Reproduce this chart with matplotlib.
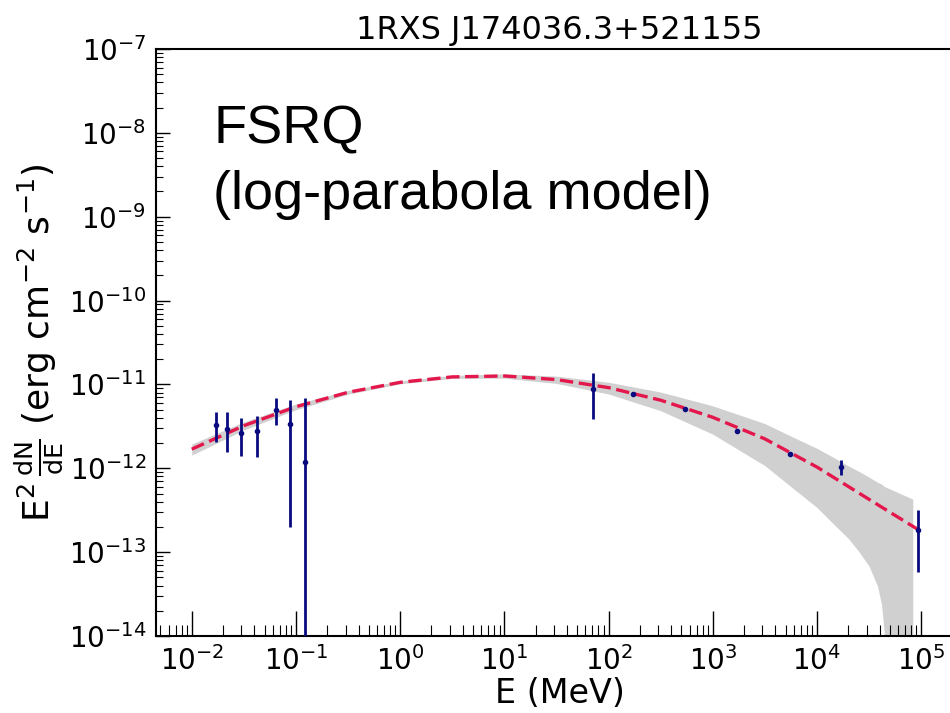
"""SED of 1RXS J174036.3+521155 with log-parabola model"""
import numpy as np
import matplotlib
matplotlib.use("Agg")
import matplotlib.pyplot as plt
from matplotlib.ticker import LogLocator, NullFormatter

# data points (E in MeV, E^2 dN/dE in erg cm^-2 s^-1)
energy = [0.0171, 0.0217, 0.0295, 0.0427, 0.0640, 0.0877, 0.122,
          70.3, 170.0, 542.0, 1700.0, 5500.0, 16900.0, 94000.0]
flux = [3.30e-12, 2.93e-12, 2.67e-12, 2.82e-12, 4.98e-12, 3.39e-12, 1.20e-12,
        8.79e-12, 7.66e-12, 5.07e-12, 2.79e-12, 1.48e-12, 1.03e-12, 1.84e-13]
flux_hi = [4.67e-12, 4.67e-12, 3.96e-12, 4.22e-12, 6.87e-12, 6.55e-12, 6.87e-12,
           1.36e-11, 8.0e-12, 5.2e-12, 2.85e-12, 1.51e-12, 1.26e-12, 3.19e-13]
flux_lo = [2.03e-12, 1.58e-12, 1.42e-12, 1.36e-12, 3.30e-12, 2.01e-13, 1e-16,
           3.85e-12, 7.3e-12, 4.95e-12, 2.73e-12, 1.45e-12, 8.34e-13, 5.85e-14]

# model line, log10 values read at half decades
model_loge = [-2.0, -1.5, -1.0, -0.5, 0.0, 0.5, 1.0, 1.5, 2.0, 2.5, 3.0, 3.5,
              4.0, 4.5, 4.97]
model_logf = [-11.772, -11.492, -11.266, -11.094, -10.975, -10.910, -10.899,
              -10.942, -11.038, -11.188, -11.392, -11.649, -11.985, -12.37,
              -12.73]

# uncertainty band edges (log10)
band_loge = [-2.0, -1.5, -1.0, -0.5, 0.0, 0.5, 1.0, 1.5, 2.0, 2.5, 3.0, 3.5,
             3.75, 4.0, 4.15, 4.3, 4.4, 4.5, 4.58, 4.62, 4.645, 4.66, 4.68,
             4.92]
band_hi = [-11.711, -11.447, -11.233, -11.073, -10.958, -10.893, -10.874,
           -10.901, -10.974, -11.091, -11.255, -11.467, -11.616, -11.762,
           -11.864, -11.970, -12.035, -12.105, -12.166, -12.189, -12.215,
           -12.225, -12.235, -12.368]
band_lo = [-11.843, -11.543, -11.302, -11.116, -10.993, -10.928, -10.926,
           -10.988, -11.114, -11.313, -11.593, -11.968, -12.218, -12.467,
           -12.653, -12.835, -12.989, -13.166, -13.40, -13.62, -13.95,
           -14.3, -16.0, -16.0]

fig = plt.figure(figsize=(9.5, 7.13), dpi=100)
ax = fig.add_axes([156 / 950, 77 / 713, (963 - 156) / 950, 587 / 713])

be = 10 ** np.array(band_loge)
ax.fill_between(be, 10 ** np.array(band_lo), 10 ** np.array(band_hi),
                color="#d0d0d0", lw=0, zorder=1)
ax.plot(10 ** np.array(model_loge), 10 ** np.array(model_logf),
        color="#e3174b", lw=2.4, ls=(0, (4, 1.7)), zorder=3)

yerr = [np.array(flux) - np.array(flux_lo), np.array(flux_hi) - np.array(flux)]
ax.errorbar(energy, flux, yerr=yerr, fmt="o", ms=3, color="#0a0a80",
            ecolor="#0a0a80", elinewidth=2.0, capsize=0, zorder=4)

ax.set_xscale("log")
ax.set_yscale("log")
ax.set_xlim(10 ** -2.343, 10 ** 5.402)
ax.set_ylim(1e-14, 1e-7)

for axis in (ax.xaxis, ax.yaxis):
    axis.set_major_locator(LogLocator(base=10, numticks=30))
    axis.set_minor_locator(LogLocator(base=10, subs=np.arange(2, 10),
                                      numticks=30))
    axis.set_minor_formatter(NullFormatter())

ax.tick_params(axis="x", which="major", direction="in", length=18, width=1,
               labelsize=20, pad=7, top=False)
ax.tick_params(axis="x", which="minor", direction="in", length=8, width=0.8,
               top=False)
ax.tick_params(axis="y", which="major", direction="in", length=10, width=1,
               labelsize=20, pad=7, right=False)
ax.tick_params(axis="y", which="minor", direction="in", length=5, width=0.8,
               right=False)
for sp in ax.spines.values():
    sp.set_linewidth(1.5)

ax.set_title("1RXS J174036.3+521155", fontsize=23, pad=7)
ax.set_xlabel("E (MeV)", fontsize=24, labelpad=1)
ax.set_ylabel(r"$\mathrm{E^2\,\frac{dN}{dE}}$ (erg cm$^{-2}$ s$^{-1}$)",
              fontsize=26, labelpad=2)

fig.text(213 / 950, 1 - 104 / 713, "FSRQ\n(log-parabola model)",
         fontsize=39, family=["Liberation Sans", "DejaVu Sans"],
         ha="left", va="top", linespacing=1.42)

fig.savefig("out.png", dpi=100)
